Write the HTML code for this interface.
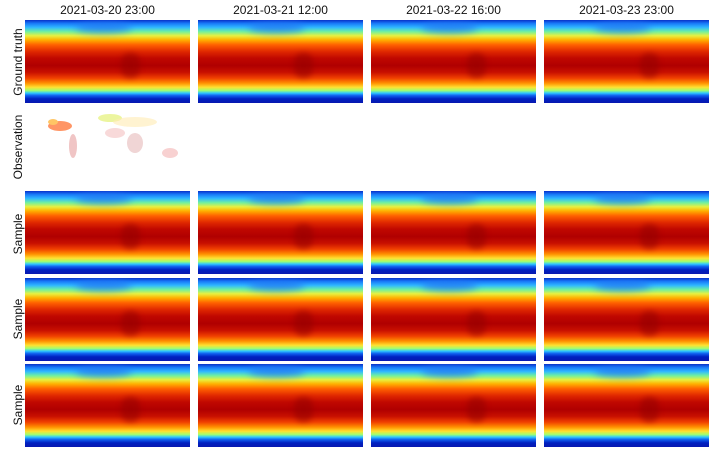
<!DOCTYPE html>
<html><head><style>
body{margin:0;width:720px;height:451px;background:#fff;position:relative;overflow:hidden;font-family:"Liberation Sans","DejaVu Sans",sans-serif}
.m{position:absolute;width:165px;height:83px;background:linear-gradient(to bottom,#0830c8 0%,#1878f8 4%,#30b8ff 9%,#70f0a0 14%,#e8f040 19%,#ffb000 24%,#ff6000 30%,#e02800 38%,#c00800 46%,#b00000 55%,#c81000 63%,#f04000 70%,#ff9000 76%,#ffe030 81%,#a0ff70 85%,#30c8ff 88%,#1060f0 91%,#0020c0 95%,#0818b0 100%);overflow:hidden}
.m::before{content:"";position:absolute;left:30%;top:2%;width:35%;height:14%;background:#2070f0;border-radius:50%;filter:blur(4px);opacity:.7}
.m::after{content:"";position:absolute;left:58%;top:40%;width:12%;height:30%;background:#900000;border-radius:40%;filter:blur(3px);opacity:.5}
.t{position:absolute;font-size:12px;color:#111;text-align:center;width:165px}
.y{position:absolute;font-size:12px;color:#111;transform:rotate(-90deg);transform-origin:center;white-space:nowrap;width:90px;text-align:center}
</style></head><body>
<div class="t" style="left:25px;top:3px">2021-03-20 23:00</div>
<div class="t" style="left:198px;top:3px">2021-03-21 12:00</div>
<div class="t" style="left:371px;top:3px">2021-03-22 16:00</div>
<div class="t" style="left:544px;top:3px">2021-03-23 23:00</div>
<div class="y" style="left:-27px;top:55px">Ground truth</div>
<div class="y" style="left:-27px;top:140px">Observation</div>
<div class="y" style="left:-27px;top:227px">Sample</div>
<div class="y" style="left:-27px;top:312px">Sample</div>
<div class="y" style="left:-27px;top:398px">Sample</div>

<div class="m" style="left:25px;top:20px"></div>
<div class="m" style="left:198px;top:20px"></div>
<div class="m" style="left:371px;top:20px"></div>
<div class="m" style="left:544px;top:20px"></div>

<svg style="position:absolute;left:25px;top:108px" width="165" height="80">
<g opacity="0.6">
<ellipse cx="35" cy="18" rx="12" ry="5" fill="#ff5000"/>
<ellipse cx="28" cy="14" rx="5" ry="3" fill="#ffa000"/>
<ellipse cx="48" cy="38" rx="4" ry="12" fill="#d04040" opacity=".5"/>
<ellipse cx="85" cy="10" rx="12" ry="4" fill="#e0f060"/>
<ellipse cx="110" cy="14" rx="22" ry="5" fill="#ffe080" opacity=".6"/>
<ellipse cx="110" cy="35" rx="8" ry="10" fill="#c05050" opacity=".4"/>
<ellipse cx="90" cy="25" rx="10" ry="5" fill="#e06060" opacity=".4"/>
<ellipse cx="145" cy="45" rx="8" ry="5" fill="#e04040" opacity=".4"/>
</g></svg>

<div class="m" style="left:25px;top:191px"></div>
<div class="m" style="left:198px;top:191px"></div>
<div class="m" style="left:371px;top:191px"></div>
<div class="m" style="left:544px;top:191px"></div>

<div class="m" style="left:25px;top:278px"></div>
<div class="m" style="left:198px;top:278px"></div>
<div class="m" style="left:371px;top:278px"></div>
<div class="m" style="left:544px;top:278px"></div>

<div class="m" style="left:25px;top:364px"></div>
<div class="m" style="left:198px;top:364px"></div>
<div class="m" style="left:371px;top:364px"></div>
<div class="m" style="left:544px;top:364px"></div>
</body></html>
